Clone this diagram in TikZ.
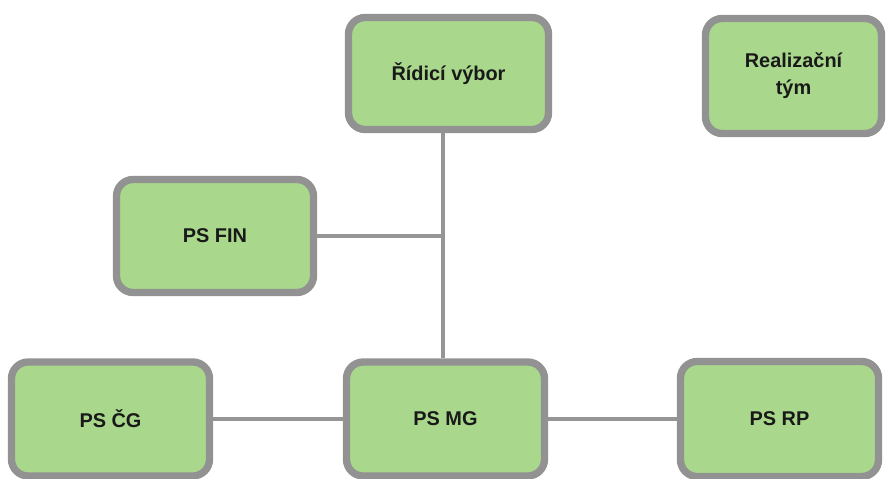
\documentclass[tikz,border=0pt]{standalone}
\usepackage{fontspec}
\setmainfont{Liberation Sans}
\definecolor{boxfill}{HTML}{A9D88C}
\definecolor{boxline}{HTML}{929292}
\definecolor{linkline}{HTML}{959595}
\tikzset{
  team/.style={draw=boxline, fill=boxfill, line width=0.22cm, rounded corners=0.5cm,
    align=center, text=black!90, font=\fontsize{17}{23}\selectfont\bfseries},
  link/.style={draw=linkline, line width=0.12cm}
}
\begin{document}
\begin{tikzpicture}[x=0.03cm, y=-0.03cm]
    \useasboundingbox (0,0) rectangle (893,479);

    % Boxes
    \node[team, minimum width=6.0cm, minimum height=3.36cm] (ridici) at (448.5,73.5) {Řídicí výbor};
    \node[team, minimum width=5.28cm, minimum height=3.45cm] (realizace) at (793.5,76) {Realizační\\tým};
    \node[team, minimum width=5.91cm, minimum height=3.39cm] (fin) at (215,236) {PS FIN};
    \node[team, minimum width=5.94cm, minimum height=3.42cm] (cg) at (110.5,419) {PS ČG};
    \node[team, minimum width=5.94cm, minimum height=3.42cm] (mg) at (445.5,419) {PS MG};
    \node[team, minimum width=5.94cm, minimum height=3.45cm] (rp) at (779.5,419) {PS RP};

    % Spine
    \coordinate (spine) at (443,0);

    % Links
    \draw[link] (ridici.south -| spine) -- (mg.north -| spine);
    \draw[link] (fin.east) -- (fin.east -| spine);
    \draw[link] (cg.east) -- (mg.west);
    \draw[link] (mg.east) -- (rp.west);
\end{tikzpicture}
\end{document}
